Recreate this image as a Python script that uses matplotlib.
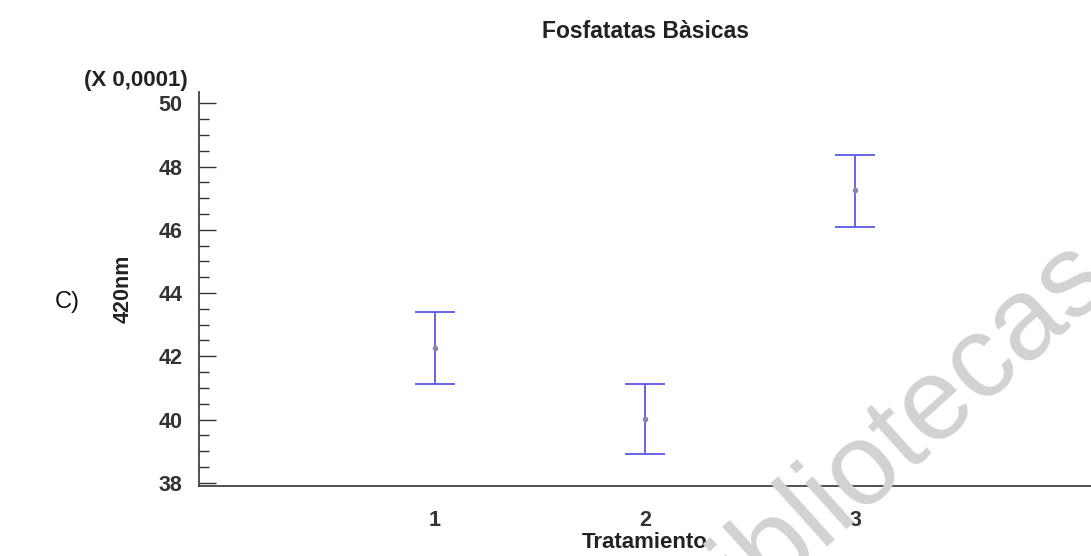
import matplotlib
matplotlib.use('Agg')
import matplotlib.pyplot as plt
from matplotlib.ticker import MultipleLocator

plt.rcParams['font.family'] = ['Liberation Sans', 'DejaVu Sans']

# data (in units of 0.0001)
tratamiento = [1, 2, 3]
medias = [42.27, 40.03, 47.25]
lim_sup = [43.39, 41.12, 48.38]
lim_inf = [41.13, 38.92, 46.10]

err_low = [m - lo for m, lo in zip(medias, lim_inf)]
err_high = [hi - m for m, hi in zip(medias, lim_sup)]

fig = plt.figure(figsize=(10.91, 5.56), dpi=100)
ax = fig.add_axes([0.1825, 0.126, 0.8175, 0.708])

ax.errorbar(tratamiento, medias, yerr=[err_low, err_high], fmt='o',
            color='#5a5ae6', ecolor='#5a5ae6', elinewidth=1.3,
            capsize=14.5, capthick=1.3, markersize=3,
            markerfacecolor='#8888aa', markeredgecolor='#8888aa', zorder=3)

ax.set_xlim(-0.12, 4.12)
ax.set_ylim(37.9, 50.35)
ax.set_xticks(tratamiento)
ax.yaxis.set_major_locator(MultipleLocator(2))
ax.yaxis.set_minor_locator(MultipleLocator(0.5))
ax.patch.set_alpha(0)

for s in ['top', 'right']:
    ax.spines[s].set_visible(False)
for s in ['left', 'bottom']:
    ax.spines[s].set_color('#333333')
    ax.spines[s].set_linewidth(1.2)

ax.tick_params(axis='y', which='major', direction='in', length=12,
               width=1, pad=12, labelsize=15.5, colors='#333333')
ax.tick_params(axis='y', which='minor', direction='in', length=7,
               width=1, colors='#333333')
ax.tick_params(axis='x', length=0, pad=17, labelsize=15.5, colors='#333333')
for lab in ax.get_xticklabels() + ax.get_yticklabels():
    lab.set_fontweight('bold')

ax.set_xlabel('Tratamiento', fontsize=16, fontweight='bold',
              color='#222222', labelpad=1)
ax.set_ylabel('420nm', fontsize=15.5, fontweight='bold',
              color='#222222', labelpad=18)
ax.set_title('Fosfatatas Bàsicas', fontsize=16.5, fontweight='bold',
             color='#222222', pad=39)

fig.text(0.1725, 0.856, '(X 0,0001)', fontsize=16, fontweight='bold',
         color='#222222', ha='right', va='center')
fig.text(0.05, 0.457, 'C)', fontsize=17, color='#111111',
         ha='left', va='center')

# watermark
fig.text(0.646, -0.17, 'bibliotecas', fontsize=84, color='#d2d2d2',
         rotation=42, rotation_mode='anchor', ha='left', va='baseline',
         zorder=0)

fig.savefig('out.png', dpi=100)
